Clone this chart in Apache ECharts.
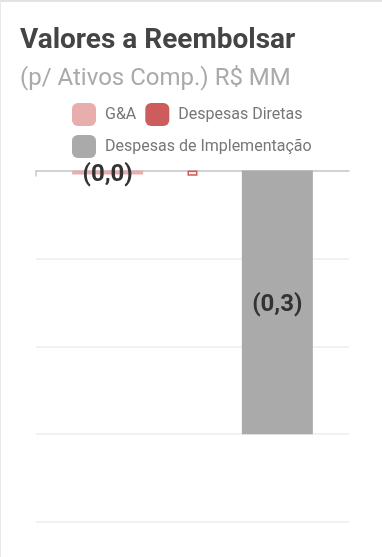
<!DOCTYPE html>
<html>
<head>
<meta charset="utf-8">
<script src="https://cdn.jsdelivr.net/npm/echarts@6/dist/echarts.min.js"></script>
<style>
  html, body { margin: 0; padding: 0; background: #fff; }
  #card {
    width: 381px; height: 555px;
    border-top: 2px solid #e2e2e2;
    border-left: 1px solid #e8e8e8;
    background: #fff;
  }
</style>
</head>
<body>
<div id="card"></div>
<script>
// Reimbursable amounts (R$ MM), one period, split by cost group
const categories = [''];
const gaValues = [-0.0045];
const directValues = [-0.006];
const implValues = [-0.3];

// baseline axis runs edge to edge; only its starting edge carries a tick
const baselineStops = ['', ''];

const seriesNames = ['G&A', 'Despesas Diretas', 'Despesas de Implementação'];
const seriesColors = ['#e8aeae', '#cd5c5c', '#aaaaaa'];

// accounting style: negatives in parentheses, comma decimal
function fmt(v) {
  const s = Math.abs(v).toFixed(1).replace('.', ',');
  return v < 0 ? '(' + s + ')' : s;
}

const labelStyle = {
  show: true,
  position: 'inside',
  offset: [0, 3],
  fontFamily: 'Roboto',
  fontWeight: 'bold',
  fontSize: 24,
  color: '#333',
  formatter: p => fmt(p.value)
};

const chart = echarts.init(document.getElementById('card'), null, { renderer: 'canvas' });
chart.setOption({
  animation: false,
  textStyle: { fontFamily: 'Roboto' },
  title: {
    text: 'Valores a Reembolsar',
    subtext: '(p/ Ativos Comp.) R$ MM',
    left: 14,
    top: 20,
    itemGap: 12,
    textStyle: { fontFamily: 'Roboto', fontSize: 28, fontWeight: 'bold', color: '#444' },
    subtextStyle: { fontFamily: 'Roboto', fontSize: 24, color: '#aaa' }
  },
  legend: {
    left: 66,
    top: 96,
    width: 250,
    itemWidth: 24,
    itemHeight: 23,
    itemGap: 9,
    icon: 'roundRect',
    textStyle: { fontFamily: 'Roboto', fontSize: 16, color: '#777', padding: [0, 0, 0, 4] },
    data: [
      { name: seriesNames[0], itemStyle: { color: seriesColors[0] } },
      { name: seriesNames[1], itemStyle: { color: seriesColors[1], borderWidth: 0 } },
      { name: seriesNames[2], itemStyle: { color: seriesColors[2] } }
    ]
  },
  grid: { left: 35, right: 33, top: 168.5, bottom: 35 },
  xAxis: [
    {
      // visible zero baseline
      type: 'category',
      position: 'bottom',
      data: baselineStops,
      boundaryGap: false,
      axisLine: { onZero: true, lineStyle: { color: '#c8c8c8', width: 1.5 } },
      axisTick: {
        show: true,
        length: 6,
        interval: (idx) => idx === 0,
        lineStyle: { color: '#c8c8c8', width: 1.5 }
      },
      axisLabel: { show: false },
      z: 0
    },
    {
      // category band holding the two wide bars
      type: 'category',
      position: 'top',
      data: categories,
      show: false
    },
    {
      // independent band for the narrow direct-costs bar, centred in the category
      type: 'category',
      position: 'top',
      data: categories,
      show: false
    }
  ],
  yAxis: {
    type: 'value',
    min: -0.4,
    max: 0,
    interval: 0.1,
    axisLabel: { show: false },
    axisLine: { show: false },
    axisTick: { show: false },
    splitLine: { lineStyle: { color: '#ececec', width: 1.5 } }
  },
  series: [
    {
      name: seriesNames[0],
      type: 'bar',
      xAxisIndex: 1,
      data: gaValues,
      barWidth: 71,
      barGap: '139%',
      itemStyle: { color: seriesColors[0] },
      label: labelStyle,
      z: 3
    },
    {
      name: seriesNames[1],
      type: 'bar',
      xAxisIndex: 2,
      data: directValues,
      barWidth: 10,
      itemStyle: { color: '#fbeaea', borderColor: '#d65858', borderWidth: 1.5 },
      z: 3
    },
    {
      name: seriesNames[2],
      type: 'bar',
      xAxisIndex: 1,
      data: implValues,
      barWidth: 71,
      barGap: '139%',
      itemStyle: { color: seriesColors[2] },
      label: labelStyle,
      z: 3
    }
  ]
});
</script>
</body>
</html>
